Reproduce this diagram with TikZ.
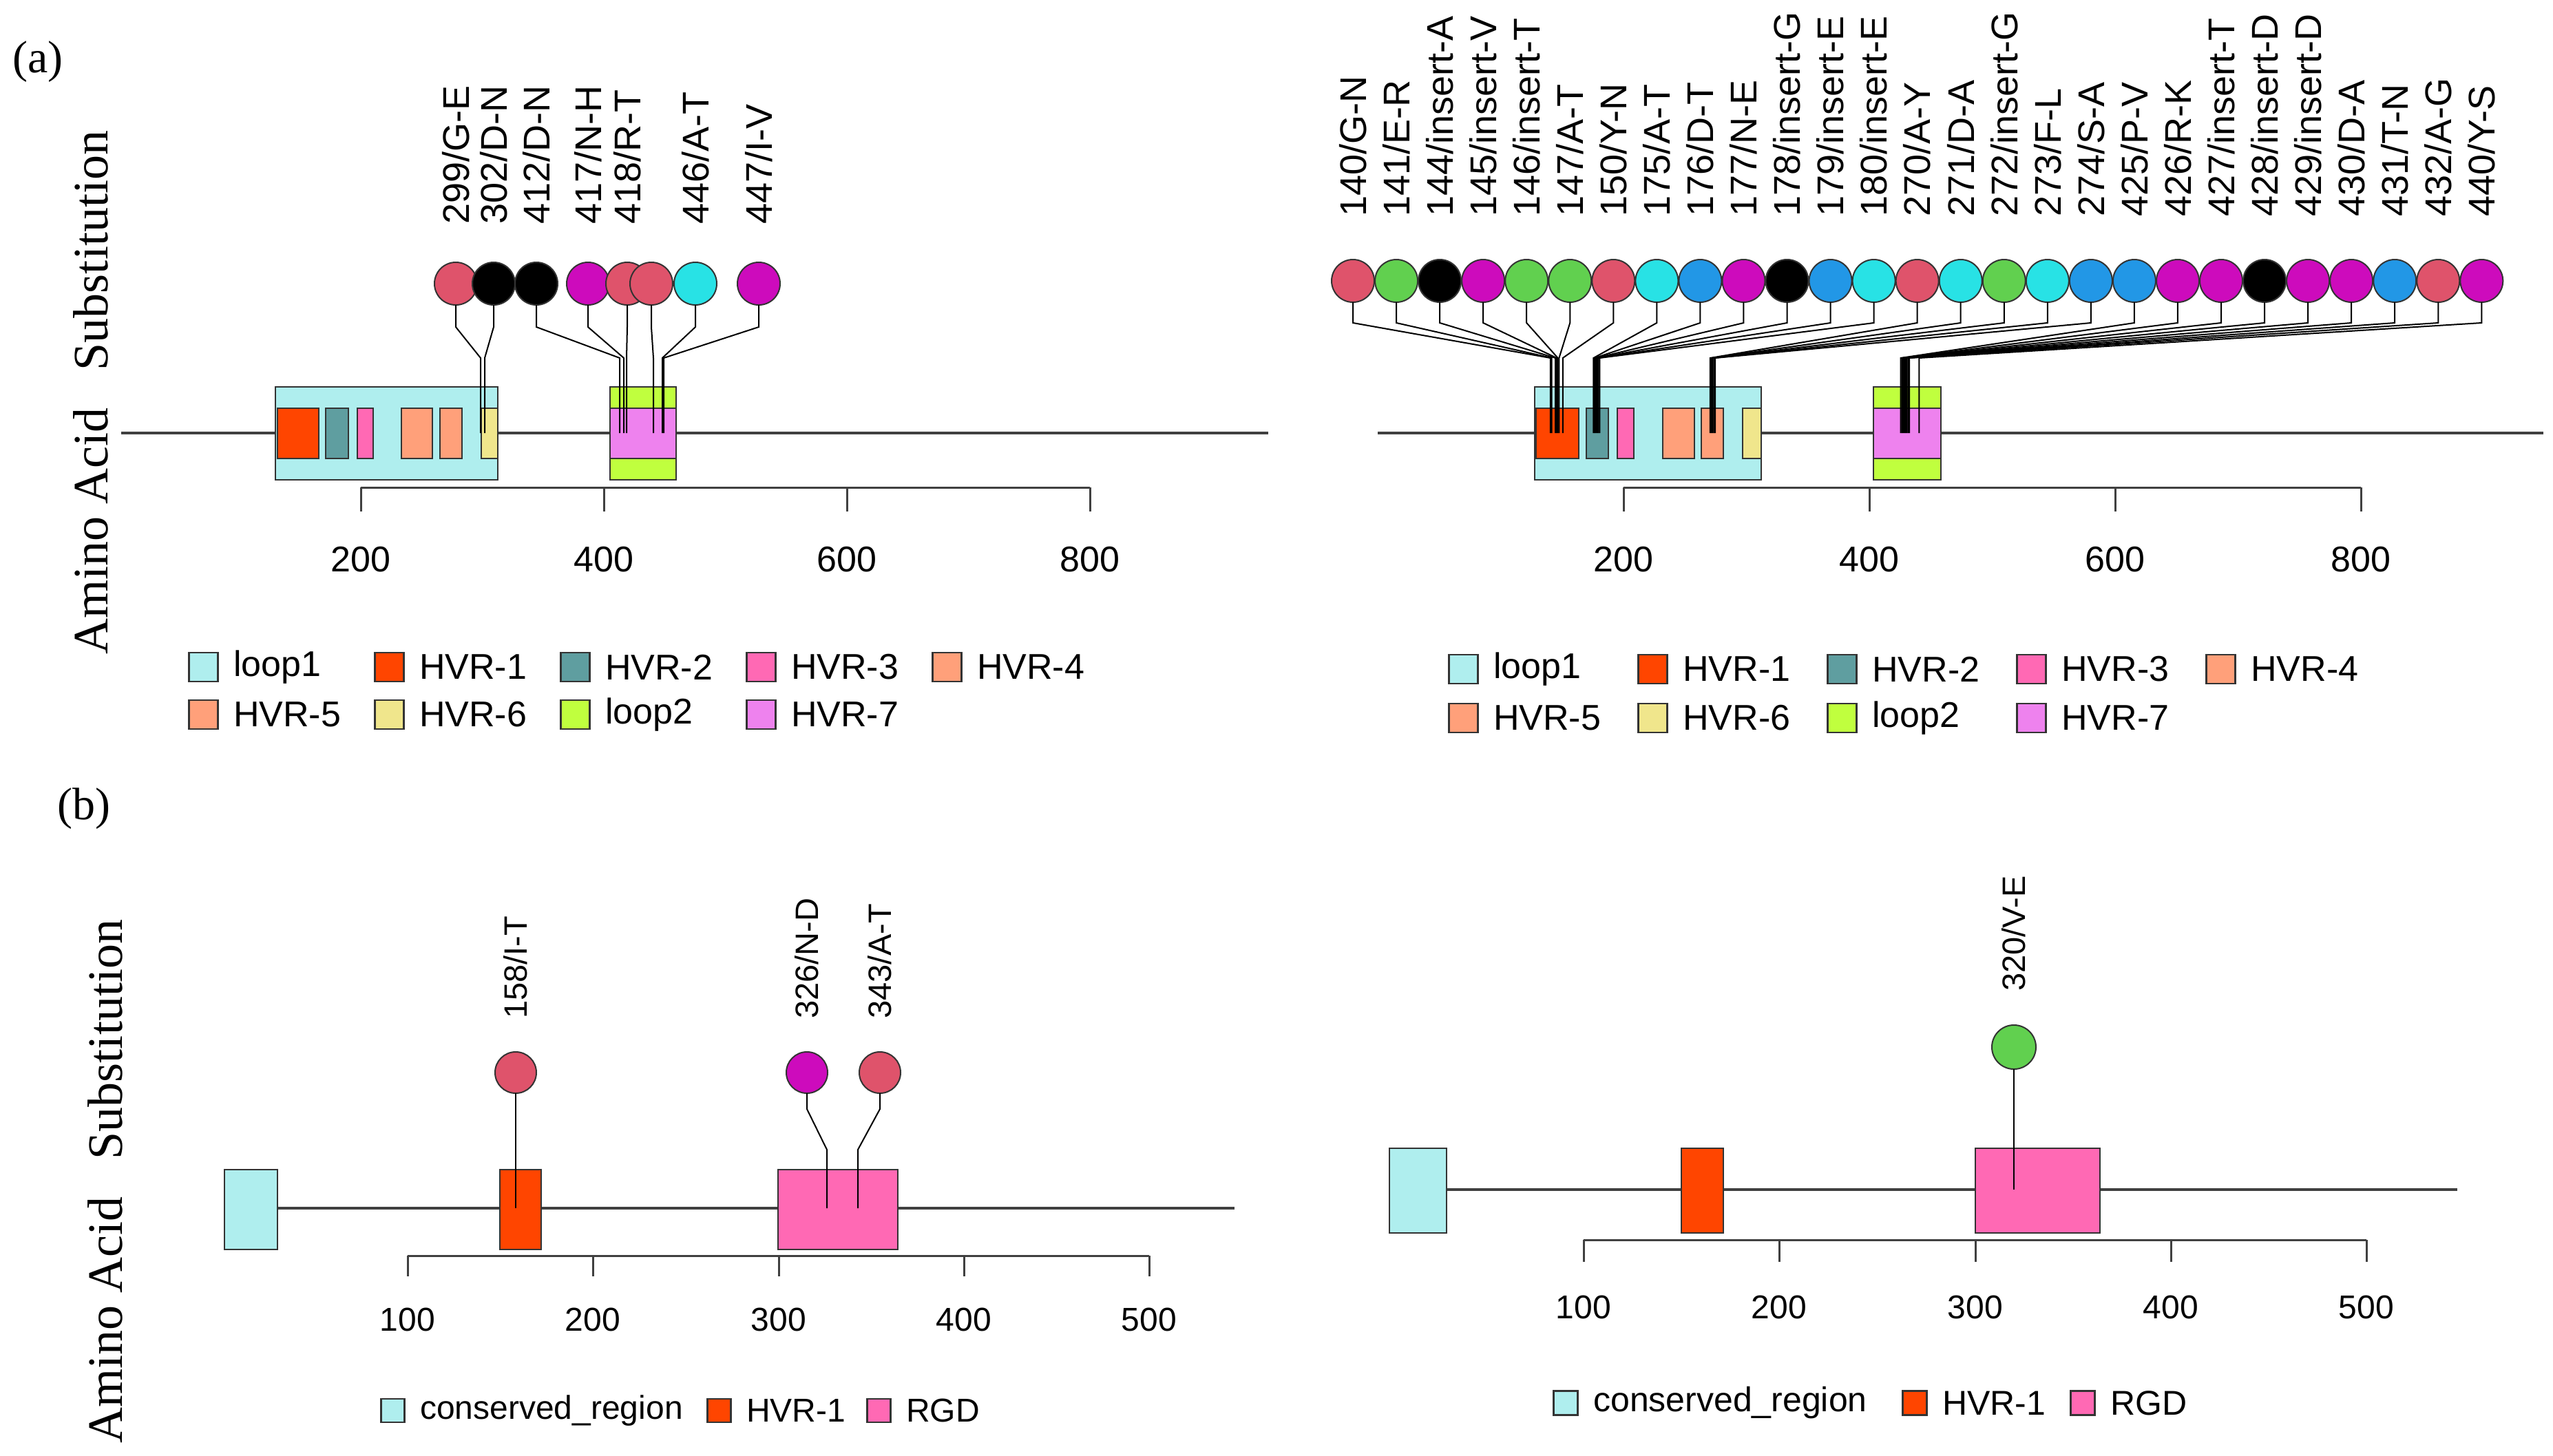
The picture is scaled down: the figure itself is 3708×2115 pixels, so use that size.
\documentclass[tikz,border=0pt]{standalone}
\usepackage{fontspec}
\setmainfont{Liberation Serif}
\setsansfont{Liberation Sans}
\definecolor{cred}{HTML}{DF536B}
\definecolor{cgreen}{HTML}{61D04F}
\definecolor{cblue}{HTML}{2297E6}
\definecolor{ccyan}{HTML}{28E2E5}
\definecolor{cmag}{HTML}{CD0BBC}
\definecolor{loopone}{HTML}{AFEEEE}
\definecolor{hvrone}{HTML}{FF4500}
\definecolor{hvrtwo}{HTML}{5F9EA0}
\definecolor{hvrthree}{HTML}{FF69B4}
\definecolor{hvrfour}{HTML}{FFA07A}
\definecolor{hvrsix}{HTML}{F0E68C}
\definecolor{looptwo}{HTML}{C0FF3E}
\definecolor{hvrseven}{HTML}{EE82EE}
\newcommand{\dbox}[6]{%
  \pgfmathsetmacro\dbw{#4-#2}\pgfmathsetmacro\dbh{#5-#3}%
  \node[dom,fill=#6,minimum width=\dbw pt,minimum height=\dbh pt] (#1) at (#2,#3) {};}
\newcommand{\legent}[7]{%
  \node[legsq,minimum size=#4pt,fill=#5,anchor=west] (#1s) at (#2,#3) {};%
  \node[#7] (#1t) at ([xshift=#4pt+24pt]#1s.west) {#6};}
\begin{document}
\begin{tikzpicture}[x=1pt,y=-1pt,
 bb/.style={draw=black!75,line width=3.5pt},
 axl/.style={draw=black!75,line width=3pt},
 dom/.style={draw=black!80,line width=2.5pt,inner sep=0,outer sep=0,anchor=north west},
 stick/.style={draw=black,line width=2pt},
 lol/.style={circle,draw=black!80,line width=2pt,inner sep=0,outer sep=0,minimum size=62pt},
 lab/.style={font=\sffamily\fontsize{54}{60}\selectfont,rotate=90,anchor=west,inner sep=0},
 labs/.style={font=\sffamily\fontsize{47}{55}\selectfont,rotate=90,anchor=west,inner sep=0},
 tl/.style={font=\sffamily\fontsize{52}{60}\selectfont,inner sep=0},
 tlb/.style={font=\sffamily\fontsize{48}{56}\selectfont,inner sep=0},
 legsq/.style={draw=black!80,line width=2.5pt,inner sep=0},
 legA/.style={font=\sffamily\fontsize{52}{60}\selectfont,anchor=west,inner sep=0},
 legB/.style={font=\sffamily\fontsize{48}{56}\selectfont,anchor=west,inner sep=0},
 legC/.style={font=\sffamily\fontsize{50}{58}\selectfont,anchor=west,inner sep=0},
 ylab/.style={font=\rmfamily\fontsize{72}{80}\selectfont,rotate=90,inner sep=0},
 plab/.style={font=\rmfamily\fontsize{66}{72}\selectfont,anchor=west,inner sep=0}]
\fill[white] (0,0) rectangle (3708,2115);
\useasboundingbox (0,0) rectangle (3708,2115);

% ---------------- panel labels ----------------
\node[plab] (pa) at (18,90) {(a)};
\node[plab] (pb) at (83,1175) {(b)};
\node[ylab] (ya) at (132,570) {Amino Acid\hspace{0.5em} Substitution};
\node[ylab] (yb) at (153,1716) {Amino Acid\hspace{0.5em} Substitution};

% ================= (a) left =================
\coordinate (aLs) at (176,629); \coordinate (aLe) at (1842,629);
\draw[bb] (aLs) -- (aLe);
\dbox{aLloop1}{400}{562}{723}{697}{loopone}
\dbox{aLh1}{403}{593}{463}{666}{hvrone}
\dbox{aLh2}{473}{593}{506}{666}{hvrtwo}
\dbox{aLh3}{519}{593}{542}{666}{hvrthree}
\dbox{aLh4}{583}{593}{628}{666}{hvrfour}
\dbox{aLh5}{639}{593}{671}{666}{hvrfour}
\dbox{aLh6}{699}{593}{723}{666}{hvrsix}
\dbox{aLloop2}{886}{562}{982}{697}{looptwo}
\dbox{aLh7}{886}{593}{982}{666}{hvrseven}
% axis
\foreach \v/\x in {200/524,400/877,600/1230,800/1583}{
  \coordinate (aLk\v) at (\x,708);
  \draw[axl] (aLk\v) -- ++(0,35);
  \node[tl] (aLn\v) at (\x,813) {\v};
}
\draw[axl] (aLk200) -- (aLk800);
% lollipops
\foreach \i/\cx/\col/\tx in {1/662/cred/698,2/717/black/704,3/779/black/900,4/854/cmag/906,5/911/cred/910,6/946/cred/949,7/1010/ccyan/962,8/1102/cmag/964}{
  \node[lol,fill=\col] (aLc\i) at (\cx,412) {};
  \coordinate (aLt\i) at (\tx,629);
}
\foreach \i in {1,...,8}{
  \draw[stick] (aLc\i.south) -- ++(0,32) -- ([yshift=109pt]aLt\i) -- (aLt\i);
}
\node[lab] (aLl1) at ([yshift=86pt]aLc1.center) {299/G-E};
\node[lab] (aLl2) at ([yshift=86pt]aLc2.center) {302/D-N};
\node[lab] (aLl3) at ([yshift=86pt]aLc3.center) {412/D-N};
\node[lab] (aLl4) at ([yshift=86pt]aLc4.center) {417/N-H};
\node[lab] (aLl5) at ([yshift=86pt]aLc5.center) {418/R-T};
\node[lab] (aLl7) at ([yshift=86pt]aLc7.center) {446/A-T};
\node[lab] (aLl8) at ([yshift=86pt]aLc8.center) {447/I-V};
% legend
\legent{aLg1}{273}{969}{42}{loopone}{loop1}{legA}
\legent{aLg2}{543}{969}{42}{hvrone}{HVR-1}{legA}
\legent{aLg3}{813}{969}{42}{hvrtwo}{HVR-2}{legA}
\legent{aLg4}{1083}{969}{42}{hvrthree}{HVR-3}{legA}
\legent{aLg5}{1353}{969}{42}{hvrfour}{HVR-4}{legA}
\legent{aLg6}{273}{1038}{42}{hvrfour}{HVR-5}{legA}
\legent{aLg7}{543}{1038}{42}{hvrsix}{HVR-6}{legA}
\legent{aLg8}{813}{1038}{42}{looptwo}{loop2}{legA}
\legent{aLg9}{1083}{1038}{42}{hvrseven}{HVR-7}{legA}

% ================= (a) right =================
\coordinate (aRs) at (2001,629); \coordinate (aRe) at (3694,629);
\draw[bb] (aRs) -- (aRe);
\dbox{aRloop1}{2229}{562}{2558}{697}{loopone}
\dbox{aRh1}{2231}{593}{2293}{666}{hvrone}
\dbox{aRh2}{2304}{593}{2336}{666}{hvrtwo}
\dbox{aRh3}{2349}{593}{2373}{666}{hvrthree}
\dbox{aRh4}{2415}{593}{2461}{666}{hvrfour}
\dbox{aRh5}{2471}{593}{2503}{666}{hvrfour}
\dbox{aRh6}{2531}{593}{2558}{666}{hvrsix}
\dbox{aRloop2}{2721}{562}{2819}{697}{looptwo}
\dbox{aRh7}{2721}{593}{2819}{666}{hvrseven}
\foreach \v/\x in {200/2358,400/2715,600/3072,800/3429}{
  \coordinate (aRk\v) at (\x,708);
  \draw[axl] (aRk\v) -- ++(0,35);
  \node[tl] (aRn\v) at (\x,813) {\v};
}
\draw[axl] (aRk200) -- (aRk800);
\foreach \p/\col [count=\i from 0] in {140/cred,141/cgreen,144/black,145/cmag,146/cgreen,147/cgreen,150/cred,175/ccyan,176/cblue,177/cmag,178/black,179/cblue,180/ccyan,270/cred,271/ccyan,272/cgreen,273/ccyan,274/cblue,425/cblue,426/cmag,427/cmag,428/black,429/cmag,430/cmag,431/cblue,432/cred,440/cmag}{
  \pgfmathsetmacro\cx{1965+63.05*\i}
  \pgfmathsetmacro\tx{2002+1.785*\p}
  \node[lol,fill=\col] (aRc\p) at (\cx,408) {};
  \coordinate (aRt\p) at (\tx,629);
}
\foreach \p in {140,141,144,145,146,147,150,175,176,177,178,179,180,270,271,272,273,274,425,426,427,428,429,430,431,432,440}{
  \draw[stick] (aRc\p.south) -- ++(0,30) -- ([yshift=109pt]aRt\p) -- (aRt\p);
}
\foreach \p/\m in {140/G-N,141/E-R,144/insert-A,145/insert-V,146/insert-T,147/A-T,150/Y-N,175/A-T,176/D-T,177/N-E,178/insert-G,179/insert-E,180/insert-E,270/A-Y,271/D-A,272/insert-G,273/F-L,274/S-A,425/P-V,426/R-K,427/insert-T,428/insert-D,429/insert-D,430/D-A,431/T-N,432/A-G,440/Y-S}{
  \node[lab] (aRl\p) at ([yshift=93pt]aRc\p.center) {\p/\m};
}
\legent{aRg1}{2103}{972}{42}{loopone}{loop1}{legA}
\legent{aRg2}{2378}{972}{42}{hvrone}{HVR-1}{legA}
\legent{aRg3}{2653}{972}{42}{hvrtwo}{HVR-2}{legA}
\legent{aRg4}{2928}{972}{42}{hvrthree}{HVR-3}{legA}
\legent{aRg5}{3203}{972}{42}{hvrfour}{HVR-4}{legA}
\legent{aRg6}{2103}{1043}{42}{hvrfour}{HVR-5}{legA}
\legent{aRg7}{2378}{1043}{42}{hvrsix}{HVR-6}{legA}
\legent{aRg8}{2653}{1043}{42}{looptwo}{loop2}{legA}
\legent{aRg9}{2928}{1043}{42}{hvrseven}{HVR-7}{legA}

% ================= (b) left =================
\coordinate (bLs) at (330,1755); \coordinate (bLe) at (1793,1755);
\draw[bb] (bLs) -- (bLe);
\dbox{bLcr}{326}{1699}{403}{1815}{loopone}
\dbox{bLh1}{726}{1699}{786}{1815}{hvrone}
\dbox{bLrgd}{1130}{1699}{1304}{1815}{hvrthree}
\foreach \v/\x in {100/592,200/861,300/1131,400/1400,500/1669}{
  \coordinate (bLk\v) at (\x,1824);
  \draw[axl] (bLk\v) -- ++(0,30);
  \node[tlb] (bLn\v) at (\x,1917) {\v};
}
\draw[axl] (bLk100) -- (bLk500);
\node[lol,fill=cred,minimum size=60pt] (bLc1) at (749,1558) {};
\node[lol,fill=cmag,minimum size=60pt] (bLc2) at (1172,1558) {};
\node[lol,fill=cred,minimum size=60pt] (bLc3) at (1278,1558) {};
\coordinate (bLt1) at (749,1755);
\coordinate (bLt2) at (1201,1755);
\coordinate (bLt3) at (1246,1755);
\draw[stick] (bLc1.south) -- (bLt1);
\draw[stick] (bLc2.south) -- ++(0,23) -- ([yshift=85pt]bLt2) -- (bLt2);
\draw[stick] (bLc3.south) -- ++(0,23) -- ([yshift=85pt]bLt3) -- (bLt3);
\node[labs] (bLl1) at ([yshift=78pt]bLc1.center) {158/I-T};
\node[labs] (bLl2) at ([yshift=78pt]bLc2.center) {326/N-D};
\node[labs] (bLl3) at ([yshift=78pt]bLc3.center) {343/A-T};
\legent{bLg1}{552}{2049}{34}{loopone}{conserved\_region}{legB}
\legent{bLg2}{1026}{2049}{34}{hvrone}{HVR-1}{legB}
\legent{bLg3}{1258}{2049}{34}{hvrthree}{RGD}{legB}

% ================= (b) right =================
\coordinate (bRs) at (2020,1728); \coordinate (bRe) at (3569,1728);
\draw[bb] (bRs) -- (bRe);
\dbox{bRcr}{2018}{1668}{2101}{1791}{loopone}
\dbox{bRh1}{2442}{1668}{2503}{1791}{hvrone}
\dbox{bRrgd}{2869}{1668}{3050}{1791}{hvrthree}
\foreach \v/\x in {100/2300,200/2584,300/2869,400/3153,500/3437}{
  \coordinate (bRk\v) at (\x,1801);
  \draw[axl] (bRk\v) -- ++(0,32);
  \node[tlb] (bRn\v) at (\x,1899) {\v};
}
\draw[axl] (bRk100) -- (bRk500);
\node[lol,fill=cgreen,minimum size=64pt] (bRc1) at (2925,1521) {};
\coordinate (bRt1) at (2925,1728);
\draw[stick] (bRc1.south) -- (bRt1);
\node[labs] (bRl1) at ([yshift=81pt]bRc1.center) {320/V-E};
\legent{bRg1}{2255}{2038}{35}{loopone}{conserved\_region}{legC}
\legent{bRg2}{2762}{2038}{35}{hvrone}{HVR-1}{legC}
\legent{bRg3}{3006}{2038}{35}{hvrthree}{RGD}{legC}
\end{tikzpicture}
\end{document}
